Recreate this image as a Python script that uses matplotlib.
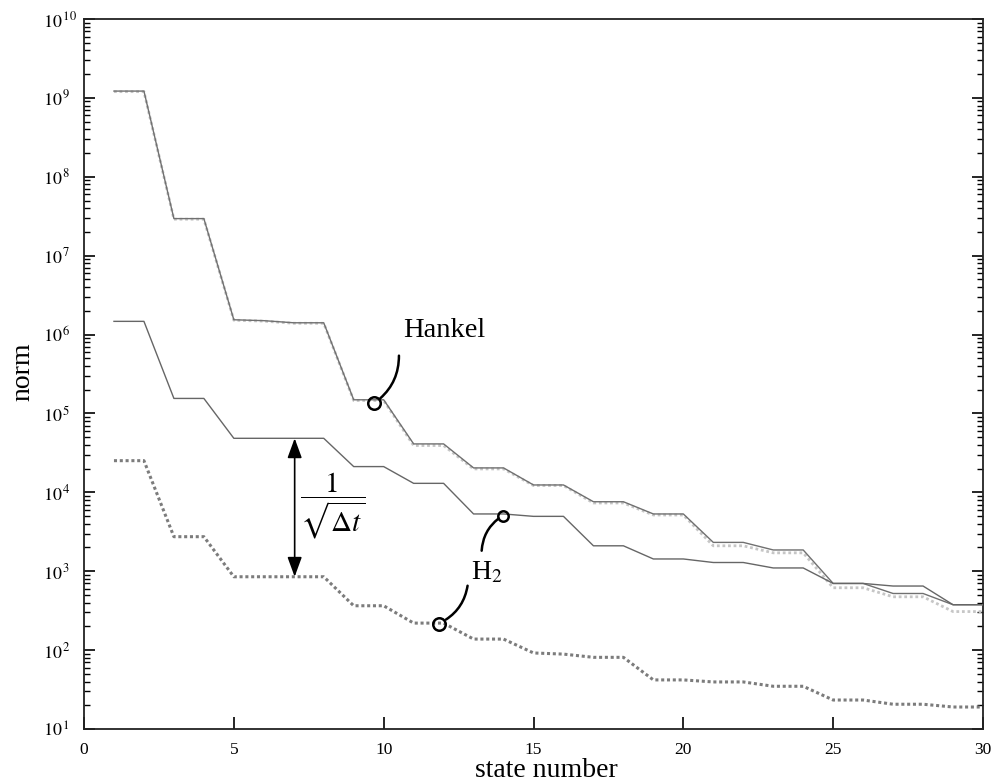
import numpy as np
import matplotlib
matplotlib.use("Agg")
import matplotlib.pyplot as plt
from matplotlib.ticker import FixedLocator, FuncFormatter, LogLocator, NullFormatter

plt.rcParams['font.family'] = ['Liberation Serif', 'DejaVu Serif']
plt.rcParams['mathtext.fontset'] = 'stix'

# ---- data ----
state = list(range(1, 31))
hankel_solid = [1.22e9, 1.22e9, 2.95e7, 2.95e7, 1.54e6, 1.50e6, 1.41e6, 1.41e6, 1.49e5, 1.49e5,
                4.11e4, 4.11e4, 2.04e4, 2.04e4, 1.24e4, 1.24e4, 7.6e3, 7.6e3, 5.32e3, 5.32e3,
                2.32e3, 2.32e3, 1.86e3, 1.86e3, 700, 700, 522, 522, 376, 376]
hankel_dotted = [1.20e9, 1.20e9, 2.90e7, 2.90e7, 1.52e6, 1.48e6, 1.39e6, 1.39e6, 1.46e5, 1.46e5,
                 3.92e4, 3.92e4, 1.98e4, 1.98e4, 1.22e4, 1.22e4, 7.33e3, 7.33e3, 5.16e3, 5.16e3,
                 2.10e3, 2.10e3, 1.71e3, 1.71e3, 617, 617, 474, 474, 308, 308]
h2_solid = [1.47e6, 1.47e6, 1.55e5, 1.55e5, 4.84e4, 4.84e4, 4.84e4, 4.84e4, 2.12e4, 2.12e4,
            1.30e4, 1.30e4, 5.32e3, 5.32e3, 4.96e3, 4.96e3, 2.10e3, 2.10e3, 1.43e3, 1.43e3,
            1.29e3, 1.29e3, 1.10e3, 1.10e3, 700, 700, 649, 649, 376, 376]
h2_dotted = [2.52e4, 2.52e4, 2.74e3, 2.74e3, 851, 851, 851, 851, 365, 365,
             220, 220, 138, 138, 92, 89, 81, 81, 41.9, 41.9,
             39.5, 39.5, 34.8, 34.8, 23.3, 23.3, 20.6, 20.6, 19.0, 19.0]

xticks = [0, 5, 10, 15, 20, 25, 30]
ydecades = list(range(1, 11))

W, H = 994, 784
fig = plt.figure(figsize=(W / 100, H / 100), dpi=100)
ax = fig.add_axes([84 / W, 1 - 729 / H, (983 - 84) / W, (729 - 19) / H])

ax.plot(state, hankel_solid, color='#707070', lw=1.0, zorder=3)
ax.plot(state, hankel_dotted, color='#c6c6c6', lw=2.0, ls=(0, (1, 1)), zorder=2)
ax.plot(state, h2_solid, color='#666666', lw=1.0, zorder=3)
ax.plot(state, h2_dotted, color='#7c7c7c', lw=2.2, ls=(0, (1, 0.9)), zorder=2)

ax.set_yscale('log')
ax.set_xlim(0, 30)
ax.set_ylim(10 ** 1, 10 ** 10)

ax.xaxis.set_major_locator(FixedLocator(xticks))
ax.yaxis.set_major_locator(FixedLocator([10.0 ** k for k in ydecades]))
ax.yaxis.set_minor_locator(LogLocator(base=10, subs=np.arange(2, 10), numticks=30))
ax.yaxis.set_minor_formatter(NullFormatter())
ax.yaxis.set_major_formatter(FuncFormatter(lambda v, p: r'$10^{\,%d}$' % round(np.log10(v))))

ax.tick_params(axis='x', which='major', direction='in', length=9, width=1.2,
               labelsize=12.5, pad=9, top=False)
ax.tick_params(axis='y', which='major', direction='in', length=8, width=1.2,
               labelsize=13, pad=29.5, right=True)
ax.tick_params(axis='y', which='minor', direction='in', length=4.5, width=1.0, right=True)
for lbl in ax.get_yticklabels():
    lbl.set_ha('left')

for s in ax.spines.values():
    s.set_linewidth(1.3)
    s.set_color('#222222')

fig.text(546 / W, 1 - 777 / H, 'state number', fontsize=20, ha='center', va='baseline')
fig.text(23 / W, 1 - 372 / H, 'norm', fontsize=20, ha='center', va='center', rotation=90)

# ---- annotations ----
ax.text(12.03, 9.4e5, 'Hankel', fontsize=20.5, ha='center', va='baseline')
ax.annotate('', xy=(9.74, 1.4e5), xytext=(10.51, 5.4e5),
            arrowprops=dict(arrowstyle='-', lw=1.8, color='black',
                            connectionstyle='arc3,rad=-0.25', shrinkA=0, shrinkB=4))
ax.plot([9.68], [1.34e5], marker='o', ms=9, mfc='none', mec='black', mew=1.8, zorder=5)

ax.text(13.45, 955, r'H$_2$', fontsize=20, ha='center', va='center')
ax.annotate('', xy=(13.95, 5.0e3), xytext=(13.27, 1.82e3),
            arrowprops=dict(arrowstyle='-', lw=1.8, color='black',
                            connectionstyle='arc3,rad=-0.25', shrinkA=0, shrinkB=3))
ax.plot([13.99], [5.06e3], marker='o', ms=7.5, mfc='none', mec='black', mew=1.8, zorder=5)
ax.annotate('', xy=(11.92, 225), xytext=(12.80, 655),
            arrowprops=dict(arrowstyle='-', lw=1.8, color='black',
                            connectionstyle='arc3,rad=-0.25', shrinkA=0, shrinkB=4))
ax.plot([11.86], [213], marker='o', ms=9, mfc='none', mec='black', mew=1.8, zorder=5)

ax.annotate('', xy=(7.03, h2_solid[6]), xytext=(7.03, h2_dotted[6]),
            arrowprops=dict(arrowstyle='<|-|>,head_length=0.6,head_width=0.22', lw=1.2,
                            color='black', mutation_scale=20, shrinkA=0, shrinkB=0))
ax.text(8.31, 6.8e3, r'$\dfrac{1}{\sqrt{\Delta t}}$', fontsize=21, ha='center', va='center')

fig.savefig('out.png', dpi=100)
